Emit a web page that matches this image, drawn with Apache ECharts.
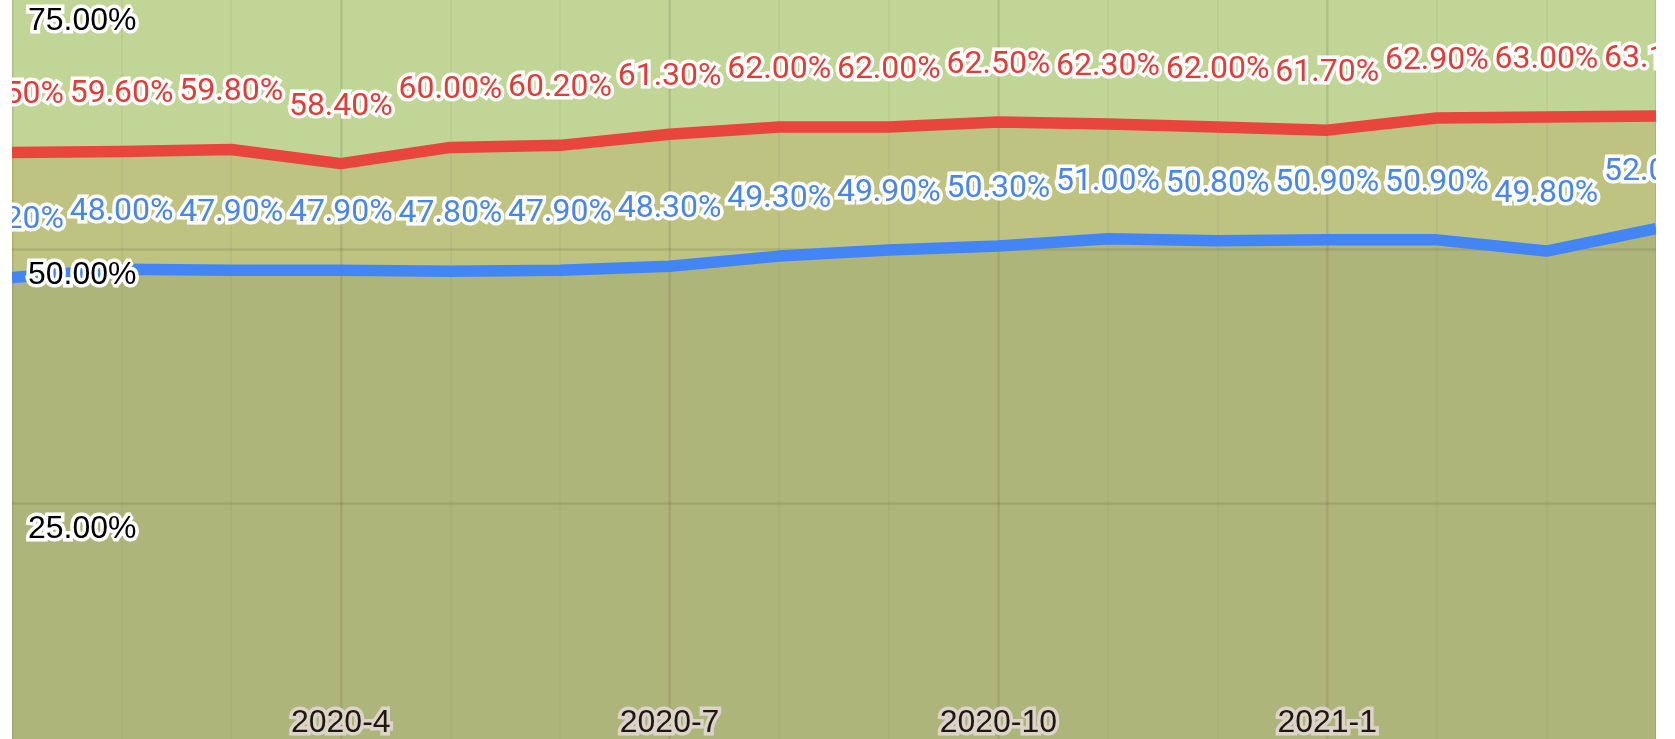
<!DOCTYPE html>
<html>
<head>
<meta charset="utf-8">
<style>
  html, body { margin: 0; padding: 0; background: #ffffff; }
  #chart { width: 1675px; height: 739px; }
</style>
<script src="https://cdn.jsdelivr.net/npm/echarts@6.0.0/dist/echarts.min.js"></script>
</head>
<body>
<div id="chart"></div>
<script>
// ---- data ----
var months = ['2020-1','2020-2','2020-3','2020-4','2020-5','2020-6','2020-7','2020-8',
              '2020-9','2020-10','2020-11','2020-12','2021-1','2021-2','2021-3','2021-4'];
var redValues  = [59.5, 59.6, 59.8, 58.4, 60.0, 60.2, 61.3, 62.0, 62.0, 62.5, 62.3, 62.0, 61.7, 62.9, 63.0, 63.1];
var blueValues = [47.2, 48.0, 47.9, 47.9, 47.8, 47.9, 48.3, 49.3, 49.9, 50.3, 51.0, 50.8, 50.9, 50.9, 49.8, 52.0];
var yTicks = { min: 0, max: 75, interval: 25 };

// ---- styles ----
var RED = '#e8453c', BLUE = '#4385f5';
var pct = function (v) { return Number(v).toFixed(2) + '%'; };
var quarterIdx = function (i) { return i % 3 === 0; };
var labelIdx = function (i) { return i > 0 && i < months.length - 1 && i % 3 === 0; };

var axisText = {
  color: '#000', fontFamily: 'Liberation Sans', fontSize: 32,
  textBorderColor: '#ffffff', textBorderWidth: 7
};
function dataLabel(color) {
  return {
    show: true, position: 'top', distance: 40, formatter: function (p) { return pct(p.value); },
    color: color, fontFamily: 'Roboto', fontSize: 32, lineHeight: 32,
    textBorderColor: '#ffffff', textBorderWidth: 7
  };
}

var chart = echarts.init(document.getElementById('chart'), null, { renderer: 'canvas' });
chart.setOption({
  animation: false,
  backgroundColor: '#ffffff',
  grid: { left: 12, right: 19, top: -5, bottom: -18, show: true, backgroundColor: '#c1d596', borderWidth: 0,
          containLabel: false, outerBoundsMode: 'none' },
  xAxis: [
    {
      type: 'category', data: months, boundaryGap: false,
      axisLine: { show: false }, axisTick: { show: false }, axisLabel: { show: false },
      splitLine: { show: true, interval: 0, lineStyle: { color: 'rgba(0,0,0,0.03)', width: 2 } }
    },
    {
      type: 'category', data: months, boundaryGap: false, position: 'bottom',
      axisLine: { show: false }, axisTick: { show: false },
      axisLabel: Object.assign({ inside: true, margin: 18, interval: labelIdx }, axisText),
      splitLine: { show: true, interval: quarterIdx, lineStyle: { color: 'rgba(0,0,0,0.07)', width: 2.5 } }
    }
  ],
  yAxis: [
    {
      type: 'value', min: yTicks.min, max: yTicks.max, interval: yTicks.interval,
      axisLine: { show: false }, axisTick: { show: false }, axisLabel: { show: false },
      splitLine: { show: true, lineStyle: { color: 'rgba(0,0,0,0.1)', width: 2.5 } }
    },
    {
      type: 'value', min: yTicks.min, max: yTicks.max, interval: yTicks.interval, position: 'left', z: 10,
      axisLine: { show: false }, axisTick: { show: false }, splitLine: { show: false },
      axisLabel: Object.assign({ inside: true, margin: 16, verticalAlign: 'top', lineHeight: 52,
        formatter: function (v) { return pct(v); } }, axisText)
    }
  ],
  series: [
    {
      type: 'line', name: 'red', data: redValues, xAxisIndex: 0, yAxisIndex: 0,
      symbol: 'circle', symbolSize: 2, showSymbol: true,
      lineStyle: { color: RED, width: 11.5, join: 'round' },
      itemStyle: { color: RED },
      areaStyle: { color: 'rgba(178,83,10,0.2)' },
      label: dataLabel('#df3e38'),
      emphasis: { disabled: true }
    },
    {
      type: 'line', name: 'blue', data: blueValues, xAxisIndex: 0, yAxisIndex: 0,
      symbol: 'circle', symbolSize: 2, showSymbol: true,
      lineStyle: { color: BLUE, width: 11.5, join: 'round' },
      itemStyle: { color: BLUE },
      areaStyle: { color: 'rgba(75,100,95,0.2)' },
      label: dataLabel('#4a86e8'),
      emphasis: { disabled: true }
    }
  ],
  graphic: [
    { type: 'rect', left: 0, top: 0, z: 100, shape: { width: 12, height: 739 }, style: { fill: '#ffffff' } },
    { type: 'rect', right: 0, top: 0, z: 100, shape: { width: 19, height: 739 }, style: { fill: '#ffffff' } }
  ]
});
</script>
</body>
</html>
